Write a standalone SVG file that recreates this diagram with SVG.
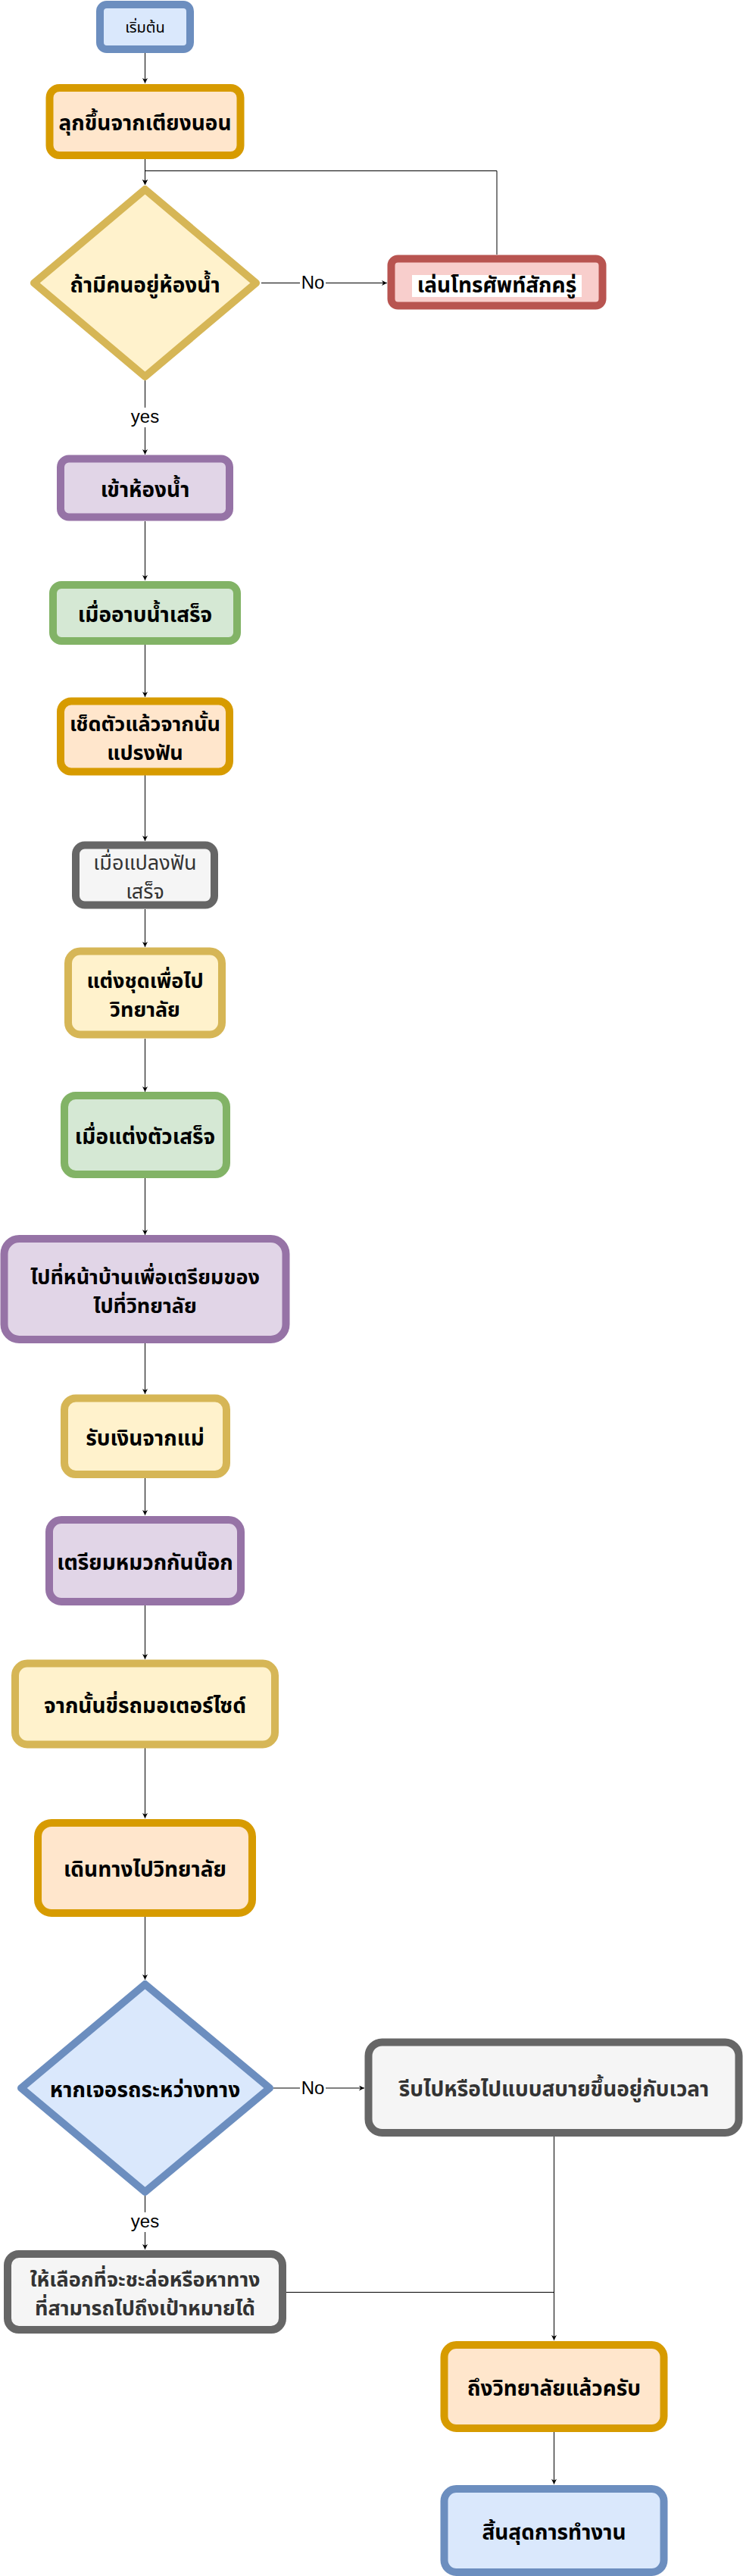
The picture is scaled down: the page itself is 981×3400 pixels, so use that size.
<svg xmlns="http://www.w3.org/2000/svg" width="981" height="3400" viewBox="0 0 981 3400">
<style>
.n{stroke-width:10}
.blue{fill:#dae8fc;stroke:#6c8ebf}
.orange{fill:#ffe6cc;stroke:#d79b00}
.yellow{fill:#fff2cc;stroke:#d6b656}
.red{fill:#f8cecc;stroke:#b85450}
.purple{fill:#e1d5e7;stroke:#9673a6}
.green{fill:#d5e8d4;stroke:#82b366}
.gray{fill:#f5f5f5;stroke:#666666}
.t{font-family:"Tahoma","Noto Sans Thai","Loma","Garuda","Liberation Sans",sans-serif;font-size:28px;font-weight:bold;fill:#000;text-anchor:middle}
.tg{font-family:"Tahoma","Noto Sans Thai","Loma","Garuda","Liberation Sans",sans-serif;font-size:28px;font-weight:bold;fill:#333333;text-anchor:middle}
.tr{font-weight:normal}
.m{font-size:27px}
.lbl{font-family:"Liberation Sans",Arial,sans-serif;font-size:24px;fill:#000;text-anchor:middle}
.e{fill:none;stroke:#000;stroke-width:1}
</style>
<defs>
<marker id="arr" viewBox="0 0 10 10" refX="10" refY="5" markerWidth="7" markerHeight="7" markerUnits="userSpaceOnUse" orient="auto">
<path d="M0,0 L10,5 L0,10 L3,5 Z" fill="#000"/>
</marker>
</defs>
<rect width="981" height="3400" fill="#ffffff"/>

<g id="connectors">
<path class="e" d="M191.5,70 V110" marker-end="url(#arr)"/>
<path class="e" d="M191.5,210 V244" marker-end="url(#arr)"/>
<path class="e" d="M656,336 V225.5 H191.5 V244" marker-end="url(#arr)"/>
<path class="e" d="M345,373.5 H511" marker-end="url(#arr)"/>
<path class="e" d="M191.5,502 V600" marker-end="url(#arr)"/>
<path class="e" d="M191.5,688 V766" marker-end="url(#arr)"/>
<path class="e" d="M191.5,851 V920" marker-end="url(#arr)"/>
<path class="e" d="M191.5,1023 V1110" marker-end="url(#arr)"/>
<path class="e" d="M191.5,1200 V1250" marker-end="url(#arr)"/>
<path class="e" d="M191.5,1371 V1441" marker-end="url(#arr)"/>
<path class="e" d="M191.5,1555 V1630" marker-end="url(#arr)"/>
<path class="e" d="M191.5,1773 V1840" marker-end="url(#arr)"/>
<path class="e" d="M191.5,1951 V2000" marker-end="url(#arr)"/>
<path class="e" d="M191.5,2119 V2190" marker-end="url(#arr)"/>
<path class="e" d="M191.5,2307 V2400" marker-end="url(#arr)"/>
<path class="e" d="M191.5,2530 V2613" marker-end="url(#arr)"/>
<path class="e" d="M361,2756 H481" marker-end="url(#arr)"/>
<path class="e" d="M191.5,2898 V2969" marker-end="url(#arr)"/>
<path class="e" d="M731.5,2820 V3089" marker-end="url(#arr)"/>
<path class="e" d="M378,3025.5 H731.5"/>
<path class="e" d="M731.5,3210 V3279" marker-end="url(#arr)"/>
<rect x="396" y="358" width="34" height="26" fill="#fff"/>
<text class="lbl" x="413" y="381">No</text>
<rect x="174" y="538" width="36" height="26" fill="#fff"/>
<text class="lbl" x="191.5" y="558">yes</text>
<rect x="396" y="2741" width="34" height="26" fill="#fff"/>
<text class="lbl" x="413" y="2764">No</text>
<rect x="174" y="2920" width="36" height="26" fill="#fff"/>
<text class="lbl" x="191.5" y="2940">yes</text>
</g>

<g id="start">
<rect class="n blue" x="132" y="6" width="119" height="59" rx="9"/>
<text class="t tr" style="font-size:20px" x="191.5" y="43">เริ่มต้น</text>
</g>
<g id="wake">
<rect class="n orange" x="65.5" y="116" width="252" height="89" rx="13"/>
<text class="t" x="191.5" y="172">ลุกขึ้นจากเตียงนอน</text>
</g>
<g id="decision1">
<path class="n yellow" stroke-linejoin="round" d="M191.5,250 L338,373.5 L191.5,497 L45,373.5 Z"/>
<text class="t" x="191.5" y="386">ถ้ามีคนอยู่ห้องน้ำ</text>
</g>
<g id="phone">
<rect class="n red" x="516.5" y="341.5" width="279" height="62" rx="9"/>
<rect x="544" y="363" width="224" height="29" fill="#ffffff"/>
<text class="t" x="656" y="386">เล่นโทรศัพท์สักครู่</text>
</g>
<g id="bathroom">
<rect class="n purple" x="80" y="605.5" width="223" height="77" rx="11"/>
<text class="t" x="191.5" y="656">เข้าห้องน้ำ</text>
</g>
<g id="showerdone">
<rect class="n green" x="70" y="772" width="243" height="74" rx="11"/>
<text class="t" x="191.5" y="821">เมื่ออาบน้ำเสร็จ</text>
</g>
<g id="brush">
<rect class="n orange" x="80" y="925.5" width="223" height="93" rx="14"/>
<text class="t m" x="191.5" y="965">เช็ดตัวแล้วจากนั้น</text>
<text class="t m" x="191.5" y="1003">แปรงฟัน</text>
</g>
<g id="brushdone">
<rect class="n gray" x="100" y="1115.5" width="183" height="79" rx="12"/>
<text class="tg tr m" x="191.5" y="1148">เมื่อแปลงฟัน</text>
<text class="tg tr m" x="191.5" y="1186">เสร็จ</text>
</g>
<g id="dress">
<rect class="n yellow" x="90" y="1255.5" width="203" height="110" rx="16"/>
<text class="t m" x="191.5" y="1303.5">แต่งชุดเพื่อไป</text>
<text class="t m" x="191.5" y="1341.5">วิทยาลัย</text>
</g>
<g id="dressdone">
<rect class="n green" x="85" y="1446" width="214" height="104" rx="15"/>
<text class="t" x="191.5" y="1510">เมื่อแต่งตัวเสร็จ</text>
</g>
<g id="prepare">
<rect class="n purple" x="5.5" y="1635" width="372" height="133" rx="20"/>
<text class="t m" x="191.5" y="1695">ไปที่หน้าบ้านเพื่อเตรียมของ</text>
<text class="t m" x="191.5" y="1733">ไปที่วิทยาลัย</text>
</g>
<g id="money">
<rect class="n yellow" x="85" y="1845.5" width="214" height="100.5" rx="15"/>
<text class="t" x="191.5" y="1908">รับเงินจากแม่</text>
</g>
<g id="helmet">
<rect class="n purple" x="65" y="2006" width="253" height="108" rx="16"/>
<text class="t" x="191.5" y="2072">เตรียมหมวกกันน๊อก</text>
</g>
<g id="motorbike">
<rect class="n yellow" x="20" y="2195.5" width="343" height="107" rx="16"/>
<text class="t" x="191.5" y="2261">จากนั้นขี่รถมอเตอร์ไซด์</text>
</g>
<g id="travel">
<rect class="n orange" x="50" y="2406" width="283" height="119" rx="18"/>
<text class="t" x="191.5" y="2477">เดินทางไปวิทยาลัย</text>
</g>
<g id="decision2">
<path class="n blue" stroke-linejoin="round" d="M191.5,2619 L356,2756 L191.5,2893 L28,2756 Z"/>
<text class="t" x="191.5" y="2768">หากเจอรถระหว่างทาง</text>
</g>
<g id="hurry">
<rect class="n gray" x="486.5" y="2695.5" width="489" height="119.5" rx="18"/>
<text class="tg" x="731.5" y="2767">รีบไปหรือไปแบบสบายขึ้นอยู่กับเวลา</text>
</g>
<g id="choose">
<rect class="n gray" x="10" y="2975" width="363" height="100" rx="15"/>
<text class="tg m" x="191.5" y="3018">ให้เลือกที่จะชะล่อหรือหาทาง</text>
<text class="tg m" x="191.5" y="3056">ที่สามารถไปถึงเป้าหมายได้</text>
</g>
<g id="arrived">
<rect class="n orange" x="586.5" y="3095" width="290" height="110" rx="16"/>
<text class="t" x="731.5" y="3162">ถึงวิทยาลัยแล้วครับ</text>
</g>
<g id="end">
<rect class="n blue" x="586.5" y="3285" width="290" height="110" rx="16"/>
<text class="t" x="731.5" y="3352">สิ้นสุดการทำงาน</text>
</g>
</svg>
